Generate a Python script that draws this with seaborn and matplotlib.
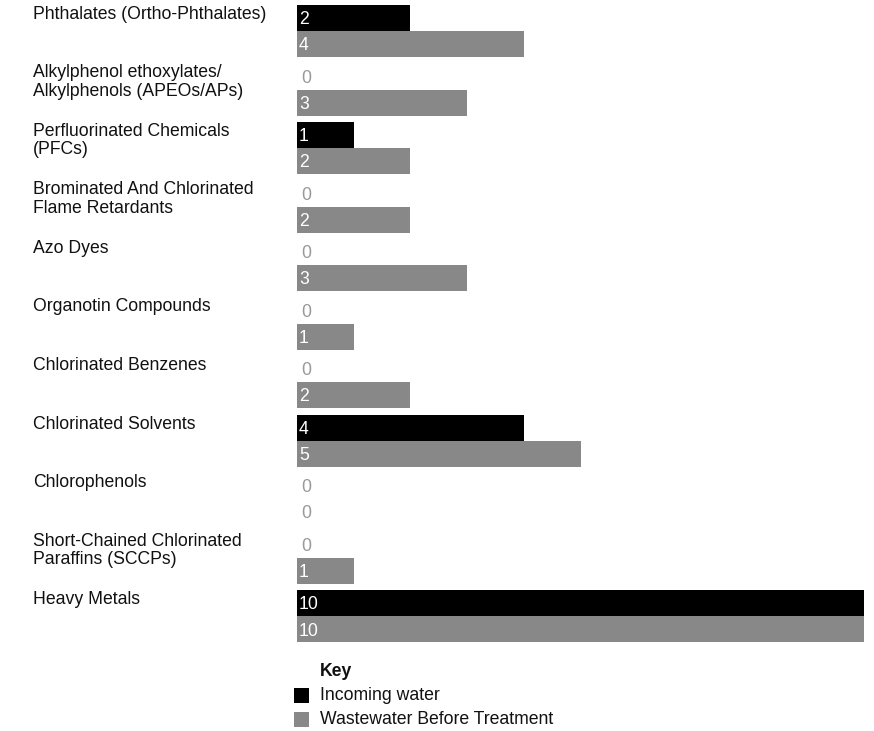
import matplotlib
matplotlib.use("Agg")
import matplotlib.pyplot as plt
import seaborn as sns
import pandas as pd
from matplotlib.patches import Rectangle
from matplotlib.transforms import blended_transform_factory

categories = [
    "Phthalates (Ortho-Phthalates)",
    "Alkylphenol ethoxylates/\nAlkylphenols (APEOs/APs)",
    "Perfluorinated Chemicals\n(PFCs)",
    "Brominated And Chlorinated\nFlame Retardants",
    "Azo Dyes",
    "Organotin Compounds",
    "Chlorinated Benzenes",
    "Chlorinated Solvents",
    "Chlorophenols",
    "Short-Chained Chlorinated\nParaffins (SCCPs)",
    "Heavy Metals",
]
incoming_water = [2, 0, 1, 0, 0, 0, 0, 4, 0, 0, 10]
wastewater_before = [4, 3, 2, 2, 3, 1, 2, 5, 0, 1, 10]
series_names = ["Incoming water", "Wastewater Before Treatment"]
key_title = "Key"

colors = {series_names[0]: "#000000", series_names[1]: "#888888"}

df = pd.DataFrame({
    "category": categories * 2,
    "series": [series_names[0]] * len(categories) + [series_names[1]] * len(categories),
    "value": incoming_water + wastewater_before,
})

sns.set_style("white")
plt.rcParams["font.family"] = ["Liberation Sans", "DejaVu Sans"]

W, H = 874, 731
fig = plt.figure(figsize=(W / 100, H / 100), dpi=100)
left_px, right_px = 297, 864
top_px, bottom_px = 1.8, 645.5
ax = fig.add_axes([left_px / W, 1 - bottom_px / H, (right_px - left_px) / W, (bottom_px - top_px) / H])

sns.barplot(data=df, y="category", x="value", hue="series", palette=colors,
            orient="h", width=0.89, dodge=True, ax=ax, legend=False,
            saturation=1, errorbar=None, linewidth=0, edgecolor="none")

ax.set_xlim(0, 10)
ax.set_ylim(len(categories) - 0.5, -0.5)
ax.set_xlabel("")
ax.set_ylabel("")
ax.set_xticks([])
ax.set_yticks([])
for s in ax.spines.values():
    s.set_visible(False)

fs = 12.7
# category labels on the left
trans = blended_transform_factory(fig.transFigure, ax.transData)
for i, c in enumerate(categories):
    ax.text(33 / W, i - 0.445 + 0.015, c, transform=trans, ha="left", va="top",
            fontsize=fs, color="#111111", linespacing=1.1)

# value labels
xoff = blended_transform_factory(ax.transAxes, ax.transData)
half = 0.89 / 2
for i in range(len(categories)):
    for j, vals in enumerate([incoming_water, wastewater_before]):
        v = vals[i]
        yc = i - half + half / 2 + j * half
        if v == 0:
            ax.text(4 / (right_px - left_px), yc + 0.03, str(v), transform=xoff,
                    ha="left", va="center", fontsize=fs, color="#999999")
        else:
            ax.text(2 / (right_px - left_px), yc + 0.03, str(v), transform=xoff,
                    ha="left", va="center", fontsize=fs, color="#ffffff")

# key
fig.text(320 / W, 1 - 671.5 / H, key_title, ha="left", va="center", fontsize=fs,
         fontweight="bold", color="#111111")
for k, name in enumerate(series_names):
    yc = 695.5 + k * 24
    fig.add_artist(Rectangle(((294) / W, 1 - (yc + 7) / H), 14.5 / W, 15 / H,
                             transform=fig.transFigure, facecolor=colors[name],
                             edgecolor="none"))
    fig.text(320 / W, 1 - yc / H, name, ha="left", va="center", fontsize=fs,
             color="#111111")

fig.savefig("out.png", dpi=100, facecolor="white")
